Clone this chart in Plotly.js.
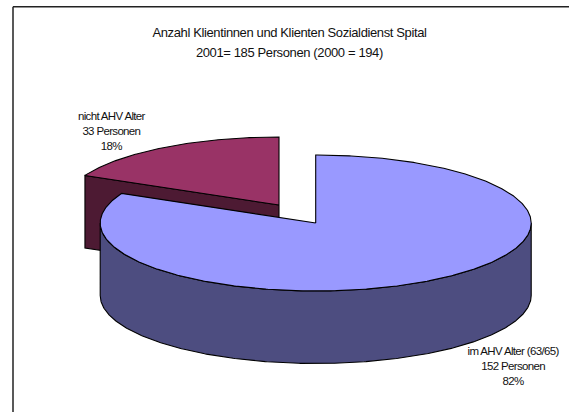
<!DOCTYPE html>
<html>
<head>
<meta charset="utf-8">
<script src="https://cdn.plot.ly/plotly-3.0.1.min.js"></script>
<style>
html,body{margin:0;padding:0;background:#fff}
#chart text{letter-spacing:-0.66px}
#chart .gtitle, #chart .subtitle-line text{letter-spacing:-0.38px}
</style>
</head>
<body>
<div id="chart" style="width:569px;height:412px"></div>
<script>
// Data
const categories = ["im AHV Alter (63/65)", "nicht AHV Alter"];
const persons = [152, 33];
const percentLabels = ["82%", "18%"];
const titleLine1 = "Anzahl Klientinnen und Klienten Sozialdienst Spital";
const titleLine2 = "2001= 185 Personen (2000 = 194)";

// Colours
const topColors = ["#9999FF", "#993366"];
const sideColors = ["#4D4D80", "#4D1A33"];

// Pie geometry, in the axis units of the page
const rx = 215.5, ry = 68, depth = 72.5;
const mainCentre = [315.7, 223];
const sliceCentre = [279, 205];

const total = persons[0] + persons[1];
const mainEnd = 360 * persons[0] / total;

function pt(c, deg, dz) {
  const t = deg * Math.PI / 180;
  return [c[0] + rx * Math.sin(t), c[1] - ry * Math.cos(t) + (dz || 0)];
}
function arc(c, a, b, dz) {
  const out = [];
  const n = Math.max(2, Math.ceil(Math.abs(b - a) * 2));
  for (let i = 0; i <= n; i++) out.push(pt(c, a + (b - a) * i / n, dz));
  return out;
}
function poly(points, fill) {
  return {
    type: "scatter", mode: "lines",
    x: points.map(p => p[0]), y: points.map(p => p[1]),
    fill: "toself", fillcolor: fill,
    line: {color: "#000", width: 1.1},
    hoverinfo: "skip", showlegend: false
  };
}

const c0 = mainCentre, c1 = sliceCentre;
const sliceWall = [[c1[0], c1[1]], pt(c1, mainEnd), pt(c1, mainEnd, depth), [c1[0], c1[1] + depth], [c1[0], c1[1]]];
const sliceTop = [[c1[0], c1[1]]].concat(arc(c1, mainEnd, 360), [[c1[0], c1[1]]]);
const mainWall = arc(c0, 90, 270).concat(arc(c0, 270, 90, depth), [pt(c0, 90)]);
const mainTop = [[c0[0], c0[1]]].concat(arc(c0, 0, mainEnd), [[c0[0], c0[1]]]);

const traces = [
  poly(sliceWall, sideColors[1]),
  poly(sliceTop, topColors[1]),
  poly(mainWall, sideColors[0]),
  poly(mainTop, topColors[0])
];

const family = "Liberation Sans, Arial, sans-serif";
const titleFont = {family: family, size: 13, color: "#111"};
const labelFont = {family: family, size: 11.5, color: "#111"};
function note(x, y, text, font, cls) {
  return {x: x, y: y, xref: "x", yref: "y", text: text, showarrow: false,
          xanchor: "center", yanchor: "middle", align: "center", font: font};
}

const layout = {
  width: 569, height: 412,
  margin: {l: 0, r: 0, t: 0, b: 0},
  paper_bgcolor: "#fff", plot_bgcolor: "#fff",
  showlegend: false,
  title: {text: titleLine1, font: titleFont, x: 289.5 / 569, xanchor: "center",
          y: 1 - 32 / 412, yanchor: "middle"},
  xaxis: {range: [0, 569], visible: false, fixedrange: true},
  yaxis: {range: [412, 0], visible: false, fixedrange: true},
  annotations: [
    note(289.8, 52, titleLine2, titleFont),
    note(111, 131, categories[1] + "<br>" + persons[1] + " Personen<br>" + percentLabels[1], labelFont),
    note(512.5, 366, categories[0] + "<br>" + persons[0] + " Personen<br>" + percentLabels[0], labelFont)
  ],
  shapes: [
    {type: "line", xref: "x", yref: "y", x0: 13, x1: 13, y0: 6.7, y1: 412, line: {color: "#222", width: 1.5}},
    {type: "line", xref: "x", yref: "y", x0: 13, x1: 569, y0: 6.7, y1: 6.7, line: {color: "#222", width: 1.5}}
  ]
};

Plotly.newPlot("chart", traces, layout, {displayModeBar: false, staticPlot: true}).then(function () {
  // The second title line is an annotation, so it takes the title's tracking.
  document.querySelectorAll("#chart .annotation-text").forEach(function (t) {
    if (t.textContent === titleLine2) t.style.letterSpacing = "-0.38px";
  });
});
</script>
</body>
</html>
